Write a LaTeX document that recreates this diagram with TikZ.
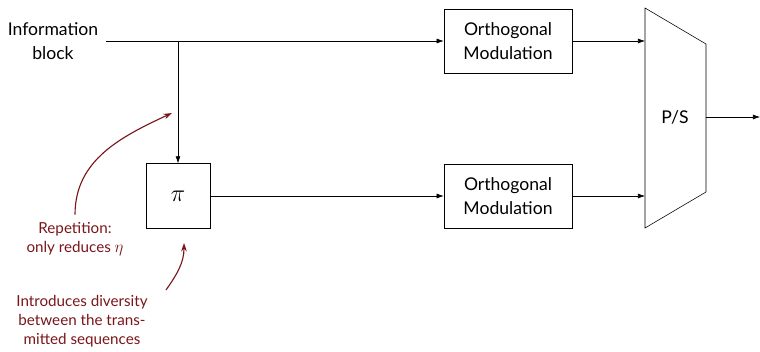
\documentclass[tikz,border=0pt]{standalone}
\usepackage{fontspec}
\setmainfont{Lato}
\usepackage{xcolor}
\definecolor{notered}{RGB}{122,22,26}
\usetikzlibrary{arrows.meta, positioning}

\tikzset{
  blockbox/.style={draw, thin, minimum width=3.2cm, minimum height=1.6cm, align=center, font=\fontsize{12.5}{17}\selectfont},
  sigline/.style={thin, -{Latex[length=5pt, width=3.5pt]}},
  note/.style={text=notered, align=center, font=\fontsize{10.8}{13.5}\selectfont},
  notearrow/.style={notered, thick, -{Stealth[length=6pt, width=4pt]}}
}

\begin{document}
\begin{tikzpicture}[x=0.025cm, y=-0.025cm]
  \useasboundingbox (0,0) rectangle (760,352);

  % --- Input and repetition branch ---
  \node[font=\fontsize{12.5}{17}\selectfont, align=center] (info) at (53,41) {Information\\block};
  \coordinate (split) at (178,41);
  \node[blockbox, minimum width=1.6cm, minimum height=1.62cm, font=\fontsize{17}{20}\selectfont] (pi) at (178,196) {$\pi$};

  % --- Modulators ---
  \node[blockbox] (mod1) at (508,41) {Orthogonal\\Modulation};
  \node[blockbox] (mod2) at (508,196) {Orthogonal\\Modulation};

  % --- Parallel to serial ---
  \draw[thin] (645,8) -- (706,44) -- (706,192) -- (645,228) -- cycle;
  \node[font=\fontsize{12.5}{17}\selectfont] (ps) at (675,117) {P/S};
  \coordinate (psin1) at (645,41);
  \coordinate (psin2) at (645,196);
  \coordinate (psout) at (706,117);
  \coordinate (out) at (760,117);

  % --- Connections ---
  \draw[thin] ([xshift=2pt]info.east |- split) -- (split);
  \draw[sigline] (split) -- (mod1.west);
  \draw[sigline] (split) -- (pi.north);
  \draw[sigline] (pi.east) -- (mod2.west);
  \draw[sigline] (mod1.east) -- (psin1);
  \draw[sigline] (mod2.east) -- (psin2);
  \draw[sigline] (psout) -- (out);

  % --- Annotations ---
  \node[note] (rep) at (75,239) {Repetition:\\only reduces {\fontsize{13}{13.5}\selectfont$\eta$}};
  \coordinate (reptip) at (172,113);
  \draw[notearrow] ([yshift=2pt]rep.north) to[out=90, in=205] (reptip);

  \node[note] (div) at (82,321) {Introduces diversity\\between the trans-\\mitted sequences};
  \coordinate (divfrom) at (166,290);
  \coordinate (divtip) at (184,243);
  \draw[notearrow] (divfrom) to[out=55, in=-90] (divtip);
\end{tikzpicture}
\end{document}
